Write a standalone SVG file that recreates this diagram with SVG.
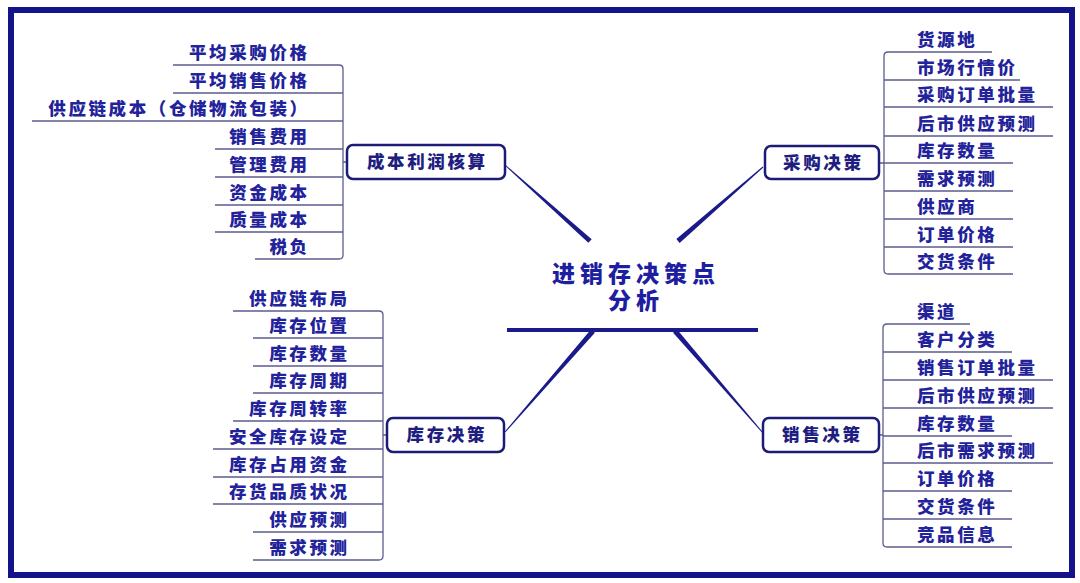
<svg xmlns="http://www.w3.org/2000/svg" width="1080" height="583" viewBox="0 0 1080 583">
<style>
text{font-family:"Noto Sans CJK SC","Noto Sans CJK TC",sans-serif;font-weight:900;fill:#22229a}
.leaf{font-size:17.5px;letter-spacing:2.6px}
.l{text-anchor:end}
.box rect{fill:#fff;stroke:#1c1c78;stroke-width:2.5}
.box text{font-size:17.5px;letter-spacing:2.6px;text-anchor:middle;fill:#1e1e80}
.br{fill:none;stroke:#5c5c90;stroke-width:1.3}
.taper{fill:#1a1a8a}
.title{font-family:"Liberation Sans","Noto Sans CJK SC",sans-serif;font-size:23px;letter-spacing:5px;text-anchor:middle;fill:#1e1ea0}
</style>
<rect x="11" y="10" width="1061" height="565" fill="#fff" stroke="#14148a" stroke-width="6"/>

<g id="connectors">
<polygon class="taper" points="504.67,165.37 588.33,242.86 591.67,239.14 505.33,164.63"/>
<polygon class="taper" points="762.67,166.62 676.36,239.11 679.64,242.89 763.33,167.38"/>
<polygon class="taper" points="505.38,432.33 594.88,332.64 591.12,329.36 504.62,431.67"/>
<polygon class="taper" points="763.38,432.67 676.89,329.37 673.11,332.63 762.62,433.33"/>
<line x1="507" y1="330" x2="758" y2="330" stroke="#1a1a8a" stroke-width="4"/>
<path class="br" d="M173,65 H339 Q343,65 343,69 V255 Q343,259 339,259 H255 M173,93 H343 M32,121 H343 M215,149 H343 M215,177 H343 M215,205 H343 M215,232 H343 M343,162 H347"/>
<path class="br" d="M992,52 H888 Q884,52 884,56 V270 Q884,274 888,274 H1013 M884,80 H1020 M884,107 H1053 M884,136 H1053 M884,163 H1013 M884,191 H1013 M884,219 H1013 M884,247 H1013 M879,163 H884"/>
<path class="br" d="M233,311 H379 Q383,311 383,315 V556 Q383,560 379,560 H253 M253,338 H383 M253,366 H383 M253,393 H383 M233,421 H383 M213,449 H383 M213,477 H383 M213,504 H383 M253,532 H383 M383,435 H387"/>
<path class="br" d="M970,324 H887 Q883,324 883,328 V543 Q883,547 887,547 H1012 M883,352 H1012 M883,380 H1053 M883,408 H1053 M883,436 H1012 M883,463 H1053 M883,491 H1012 M883,519 H1012 M879,435 H883"/>
</g>

<g id="center">
<text class="title" x="636" y="282">进销存决策点</text>
<text class="title" x="636" y="309">分析</text>
</g>

<g id="cost" class="box"><rect x="347" y="145" width="158" height="34" rx="6"/><text x="427.3" y="168">成本利润核算</text></g>
<g id="purchase" class="box"><rect x="765" y="146" width="114" height="33" rx="6"/><text x="823.3" y="169">采购决策</text></g>
<g id="inventory" class="box"><rect x="387" y="418" width="117" height="34" rx="6"/><text x="446.8" y="441">库存决策</text></g>
<g id="sales" class="box"><rect x="763" y="418" width="116" height="34" rx="6"/><text x="822.3" y="441">销售决策</text></g>

<g id="cost-items" class="leaf l">
<text class="l" x="309.6" y="59">平均采购价格</text>
<text class="l" x="309.6" y="87">平均销售价格</text>
<text class="l" x="309.6" y="115">供应链成本（仓储物流包装）</text>
<text class="l" x="309.6" y="143">销售费用</text>
<text class="l" x="309.6" y="171">管理费用</text>
<text class="l" x="309.6" y="199">资金成本</text>
<text class="l" x="309.6" y="226">质量成本</text>
<text class="l" x="309.6" y="253">税负</text>
</g>

<g id="purchase-items" class="leaf">
<text x="917" y="46">货源地</text>
<text x="917" y="74">市场行情价</text>
<text x="917" y="101">采购订单批量</text>
<text x="917" y="130">后市供应预测</text>
<text x="917" y="157">库存数量</text>
<text x="917" y="185">需求预测</text>
<text x="917" y="213">供应商</text>
<text x="917" y="241">订单价格</text>
<text x="917" y="268">交货条件</text>
</g>

<g id="inventory-items" class="leaf">
<text class="l" x="349.6" y="305">供应链布局</text>
<text class="l" x="349.6" y="332">库存位置</text>
<text class="l" x="349.6" y="360">库存数量</text>
<text class="l" x="349.6" y="387">库存周期</text>
<text class="l" x="349.6" y="415">库存周转率</text>
<text class="l" x="349.6" y="443">安全库存设定</text>
<text class="l" x="349.6" y="471">库存占用资金</text>
<text class="l" x="349.6" y="498">存货品质状况</text>
<text class="l" x="349.6" y="526">供应预测</text>
<text class="l" x="349.6" y="554">需求预测</text>
</g>

<g id="sales-items" class="leaf">
<text x="917" y="318">渠道</text>
<text x="917" y="346">客户分类</text>
<text x="917" y="374">销售订单批量</text>
<text x="917" y="402">后市供应预测</text>
<text x="917" y="430">库存数量</text>
<text x="917" y="457">后市需求预测</text>
<text x="917" y="485">订单价格</text>
<text x="917" y="513">交货条件</text>
<text x="917" y="541">竞品信息</text>
</g>
</svg>
